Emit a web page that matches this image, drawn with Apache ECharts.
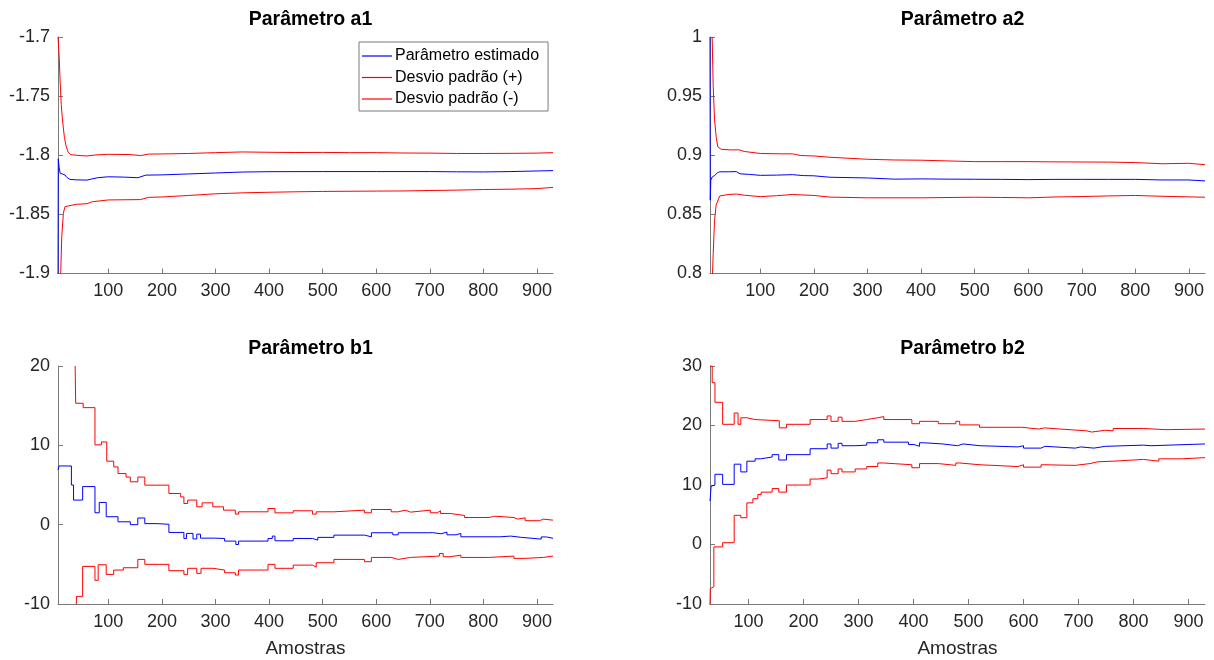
<!DOCTYPE html>
<html>
<head>
<meta charset="utf-8">
<title>Estimação de parâmetros</title>
<script src="https://cdn.jsdelivr.net/npm/echarts@6/dist/echarts.min.js"></script>
<style>
  html, body { margin: 0; padding: 0; background: #fff; }
  #chart { width: 1214px; height: 660px; }
</style>
</head>
<body>
<div id="chart"></div>
<script>
// Sample ticks shared by every subplot
const xTicks = [100, 200, 300, 400, 500, 600, 700, 800, 900];

// Subplot titles and legend entries
const titles = ['Parâmetro a1', 'Parâmetro a2', 'Parâmetro b1', 'Parâmetro b2'];
const seriesNames = ['Parâmetro estimado', 'Desvio padrão (+)', 'Desvio padrão (-)'];

// Parameter a1: [sample, value]
const a1Est = [[6,-1.92],[6.5,-1.803],[8,-1.810],[10,-1.8153],[12,-1.8148],[14,-1.8158],[16,-1.816],[19,-1.8167],[22,-1.8185],[28,-1.8204],[40,-1.8208],[60,-1.821],[80,-1.819],[100,-1.8182],[130,-1.8185],[155,-1.819],[170,-1.8168],[200,-1.8166],[250,-1.8158],[300,-1.815],[350,-1.8142],[400,-1.8139],[500,-1.8138],[600,-1.8138],[700,-1.8138],[750,-1.814],[800,-1.8141],[850,-1.8138],[900,-1.8133],[930,-1.813]];
const a1Upper = [[6,-1.70],[8,-1.715],[10,-1.738],[12,-1.757],[14,-1.768],[16,-1.777],[18,-1.785],[21,-1.792],[25,-1.7975],[30,-1.7995],[45,-1.8002],[60,-1.8006],[75,-1.7998],[100,-1.7992],[140,-1.7994],[160,-1.8003],[175,-1.7990],[200,-1.7989],[250,-1.7985],[300,-1.7978],[350,-1.7972],[400,-1.7975],[450,-1.7977],[500,-1.7976],[550,-1.7978],[600,-1.7978],[650,-1.7981],[700,-1.7982],[750,-1.7985],[800,-1.7985],[850,-1.7984],[900,-1.7982],[930,-1.7978]];
const a1Lower = [[9,-1.92],[11,-1.90],[13,-1.869],[16,-1.849],[19,-1.8435],[22,-1.842],[40,-1.8415],[60,-1.841],[70,-1.8393],[100,-1.8378],[160,-1.8375],[175,-1.8356],[200,-1.8353],[250,-1.834],[300,-1.8326],[350,-1.8318],[400,-1.8313],[450,-1.8309],[500,-1.8306],[600,-1.8303],[650,-1.8302],[700,-1.8298],[750,-1.8295],[800,-1.829],[850,-1.8287],[900,-1.8282],[930,-1.8272]];

// Parameter a2: [sample, value]
const a2Est = [[6,1.0],[6.5,0.862],[7.5,0.879],[10,0.8815],[12,0.8805],[15,0.883],[20,0.8852],[24,0.886],[40,0.886],[55,0.8862],[62,0.8843],[80,0.8838],[100,0.883],[130,0.8832],[160,0.8836],[180,0.8828],[200,0.8826],[230,0.8814],[300,0.8808],[350,0.8798],[400,0.8800],[450,0.8798],[500,0.8797],[550,0.8796],[600,0.8794],[650,0.8796],[700,0.8796],[750,0.8796],[800,0.8796],[850,0.8791],[900,0.8791],[930,0.8783]];
const a2Upper = [[10,1.0],[12,0.958],[14.5,0.93],[17.5,0.9157],[20.5,0.9072],[27,0.905],[45,0.9045],[60,0.9046],[70,0.9032],[100,0.9015],[140,0.9012],[160,0.9012],[175,0.8998],[200,0.8994],[230,0.8983],[300,0.8966],[350,0.8960],[400,0.8958],[450,0.8952],[500,0.8946],[550,0.8946],[600,0.8946],[650,0.8944],[700,0.8943],[750,0.8942],[800,0.8938],[850,0.8928],[900,0.8932],[930,0.892]];
const a2Lower = [[10,0.79],[12,0.817],[14.5,0.845],[17.5,0.858],[24,0.8655],[40,0.8668],[55,0.8672],[70,0.8662],[100,0.8650],[130,0.8658],[160,0.8668],[200,0.8660],[230,0.8646],[300,0.8640],[400,0.8640],[500,0.8645],[550,0.8643],[600,0.8640],[650,0.8647],[700,0.8651],[750,0.8656],[800,0.8660],[850,0.8653],[900,0.8648],[930,0.8645]];

// Parameter b1: [sample where the level starts, level]
const b1Est = [[6,6.9],[8,7.4],[31,5.0],[35,3.1],[52,4.8],[75,1.5],[83,2.8],[96,1.0],[118,0.36],[141,0.0],[155,0.84],[168,0.13],[191,0.05],[213,-0.98],[241,-1.74],[246,-1.1],[258,-1.8],[265,-1.2],[272,-1.7],[298,-1.74],[317,-2.07],[338,-2.5],[343,-2.07],[398,-1.74],[406,-1.44],[411,-2.03],[445,-1.74],[481,-1.95],[491,-1.6],[521,-1.32],[578,-1.53],[591,-1.02],[631,-1.28],[641,-1.02],[698,-1.0],[705,-1.15],[721,-0.94],[732,-1.28],[749,-1.1],[758,-1.53],[831,-1.44],[851,-1.6],[871,-1.82],[908,-1.55],[918,-1.72],[930,-1.72]];
const b1Upper = [[38,20],[39,15.3],[53,14.75],[75,10.06],[87,10.43],[97,8.0],[110,7.28],[118,6.44],[133,6.0],[141,5.4],[155,6.0],[168,4.98],[213,3.93],[235,3.5],[241,2.67],[248,3.1],[265,2.25],[275,2.75],[295,2.25],[315,1.83],[337,1.33],[343,1.62],[398,2.04],[411,1.49],[445,1.75],[481,1.33],[488,1.62],[521,1.83],[578,1.5],[591,1.91],[628,1.62],[641,1.83],[654,1.58],[664,1.83],[701,1.5],[714,1.75],[720,1.41],[738,1.16],[765,0.9],[811,1.07],[821,0.9],[857,0.7],[864,0.86],[878,0.5],[905,0.7],[912,0.57],[930,0.57]];
const b1Lower = [[40,-10.5],[40.5,-9.04],[52,-5.26],[75,-7.02],[81,-5.05],[96,-6.27],[110,-5.72],[128,-5.43],[155,-4.38],[168,-5.0],[213,-5.8],[241,-6.27],[248,-5.5],[265,-6.14],[273,-5.5],[295,-5.72],[317,-6.06],[337,-6.35],[343,-5.72],[398,-5.0],[411,-5.5],[445,-5.1],[481,-5.35],[488,-4.8],[521,-4.38],[578,-4.67],[591,-4.13],[628,-4.38],[641,-4.13],[664,-3.96],[718,-3.63],[725,-4.04],[738,-3.84],[758,-4.13],[811,-3.96],[857,-4.25],[878,-4.13],[912,-3.96],[930,-3.96]];

// Parameter b2: [sample where the level starts, level]
const b2Est = [[30,7.3],[31,8.5],[32,9.8],[34,10.0],[39,11.8],[53,10.1],[74,13.5],[86,12.2],[97,14.0],[112,14.4],[122,14.7],[143,15.1],[155,14.2],[169,15.1],[212,16.1],[243,16.9],[250,16.2],[263,17.0],[270,16.6],[294,16.7],[315,17.1],[335,17.6],[346,17.2],[391,16.8],[401,16.5],[411,17.1],[418,16.9],[453,16.6],[480,16.9],[490,16.6],[521,16.4],[590,16.6],[600,16.2],[632,16.5],[639,16.2],[694,16.4],[704,16.2],[728,16.5],[749,16.7],[818,16.6],[832,16.9],[930,16.9]];
const b2Upper = [[30,30],[34,27.2],[39,23.9],[53,20.2],[74,22.1],[81,20.2],[86,21.3],[97,21.0],[112,20.8],[156,19.6],[169,20.2],[212,21.0],[243,21.6],[250,20.7],[263,21.4],[270,20.7],[294,21.0],[315,21.3],[335,21.5],[346,21.0],[397,20.3],[411,20.7],[445,20.3],[477,20.7],[484,20.1],[520,19.7],[597,19.4],[628,19.6],[638,19.4],[667,19.1],[715,18.9],[724,19.2],[749,19.1],[763,19.5],[818,19.3],[859,19.4],[930,19.4]];
const b2Lower = [[30,-10.5],[30.5,-7.4],[34,-7.1],[37,-0.4],[53,0.3],[74,4.9],[86,4.5],[97,7.0],[108,7.7],[117,8.4],[123,8.8],[143,9.4],[155,8.8],[169,10.0],[212,11.0],[226,11.2],[243,12.5],[250,11.9],[263,12.7],[270,12.2],[294,12.7],[315,13.1],[335,13.7],[346,13.4],[397,12.9],[411,13.6],[445,13.3],[477,13.7],[484,13.4],[521,13.1],[590,13.4],[600,13.0],[632,13.4],[639,13.3],[694,13.6],[721,13.9],[735,14.0],[763,14.3],[818,14.0],[846,14.4],[887,14.6],[930,14.6]];

// Axis ranges per subplot
const yRanges = [
  { min: -1.9, max: -1.7, interval: 0.05 },
  { min: 0.8, max: 1.0, interval: 0.05 },
  { min: -10, max: 20, interval: 10 },
  { min: -10, max: 30, interval: 10 }
];
const xRanges = [
  { min: 6, max: 930 },
  { min: 6, max: 930 },
  { min: 6, max: 930 },
  { min: 30, max: 930 }
];

const FONT = '"Liberation Sans", Arial, Helvetica, sans-serif';
const TEXT = '#262626';
const AXIS = '#7a7a7a';
const BLUE = '#0000ff';
const RED = '#ff0000';

const grids = [
  { left: 58, top: 37, width: 495, height: 236.5 },
  { left: 710, top: 37, width: 495, height: 236.5 },
  { left: 58, top: 366, width: 495, height: 238 },
  { left: 710, top: 366, width: 495, height: 238 }
];

const fmt = v => String(parseFloat(v.toFixed(4)));

const xAxes = grids.map((g, i) => ({
  type: 'value',
  gridIndex: i,
  min: xRanges[i].min,
  max: xRanges[i].max,
  splitLine: { show: false },
  axisLine: { show: true, onZero: false, lineStyle: { color: AXIS, width: 1 } },
  axisTick: { show: true, inside: true, length: 5, customValues: xTicks, lineStyle: { color: AXIS } },
  axisLabel: { customValues: xTicks, color: TEXT, fontSize: 18, fontFamily: FONT, margin: 9 },
  name: i >= 2 ? 'Amostras' : '',
  nameLocation: 'middle',
  nameGap: 35,
  nameTextStyle: { color: TEXT, fontSize: 19, fontFamily: FONT }
}));

const yAxes = grids.map((g, i) => ({
  type: 'value',
  gridIndex: i,
  min: yRanges[i].min,
  max: yRanges[i].max,
  interval: yRanges[i].interval,
  splitLine: { show: false },
  axisLine: { show: true, onZero: false, lineStyle: { color: AXIS, width: 1 } },
  axisTick: { show: true, inside: true, length: 5, lineStyle: { color: AXIS } },
  axisLabel: { color: TEXT, fontSize: 18, fontFamily: FONT, margin: 8, formatter: fmt }
}));

const panels = [
  [a1Est, a1Upper, a1Lower, false],
  [a2Est, a2Upper, a2Lower, false],
  [b1Est, b1Upper, b1Lower, 'end'],
  [b2Est, b2Upper, b2Lower, 'end']
];

const series = [];
panels.forEach((p, i) => {
  const colors = [BLUE, RED, RED];
  for (let k = 0; k < 3; k++) {
    series.push({
      type: 'line',
      name: seriesNames[k],
      xAxisIndex: i,
      yAxisIndex: i,
      data: p[k],
      step: p[3],
      symbol: 'none',
      showSymbol: false,
      clip: true,
      color: colors[k],
      lineStyle: { color: colors[k], width: 1 },
      emphasis: { disabled: true },
      animation: false
    });
  }
});

const titleOpts = grids.map((g, i) => ({
  text: titles[i],
  left: g.left + g.width / 2,
  top: g.top - 32,
  textAlign: 'center',
  textStyle: { fontFamily: FONT, fontSize: 19.5, fontWeight: 'bold', color: '#000' }
}));

// Legend keys are drawn as thin solid strokes
const legendData = seriesNames.map((n, k) => ({
  name: n,
  icon: 'rect',
  itemStyle: { color: k === 0 ? BLUE : RED }
}));

const chart = echarts.init(document.getElementById('chart'), null, { renderer: 'canvas' });
chart.setOption({
  animation: false,
  backgroundColor: '#fff',
  title: titleOpts,
  legend: {
    data: legendData,
    orient: 'vertical',
    left: 359,
    top: 42,
    itemWidth: 30,
    itemHeight: 1.2,
    itemGap: 5.5,
    padding: [6, 9, 4, 3],
    borderColor: '#7a7a7a',
    borderWidth: 1,
    backgroundColor: '#fff',
    textStyle: { fontFamily: FONT, fontSize: 16, lineHeight: 16, color: '#000', padding: [0, 0, 0, -2] },
    selectedMode: false
  },
  grid: grids,
  xAxis: xAxes,
  yAxis: yAxes,
  series: series
});
</script>
</body>
</html>
